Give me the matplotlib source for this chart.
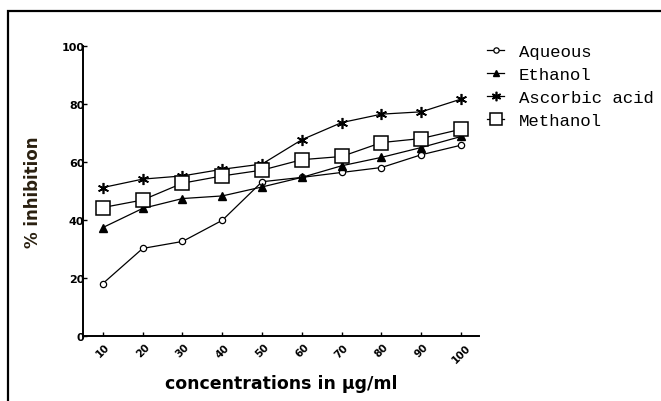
import matplotlib
matplotlib.use("Agg")
import matplotlib.pyplot as plt
from matplotlib.patches import Rectangle

concentrations = [10, 20, 30, 40, 50, 60, 70, 80, 90, 100]
aqueous = [18.1, 30.2, 32.6, 39.9, 53.2, 54.7, 56.4, 58.1, 62.5, 65.8]
ethanol = [37.4, 44.0, 47.4, 48.3, 51.4, 54.7, 58.7, 61.6, 65.0, 68.8]
ascorbic = [51.2, 54.1, 55.2, 57.5, 59.3, 67.7, 73.6, 76.5, 77.3, 81.7]
methanol = [44.3, 46.9, 52.7, 55.2, 57.2, 60.8, 61.9, 66.7, 68.1, 71.3]
series_names = ["Aqueous", "Ethanol", "Ascorbic acid", "Methanol"]
y_ticks = [0, 20, 40, 60, 80, 100]

fig = plt.figure(figsize=(6.61, 4.02), dpi=100)
fig.patch.set_facecolor("white")
ax = fig.add_axes([83/661, 1-337/402, (479-83)/661, (337-47)/402])

lw = 0.9
ax.plot(concentrations, aqueous, color="black", lw=lw, marker="o", ms=4.5,
        mfc="white", mec="black", mew=0.9, label=series_names[0])
ax.plot(concentrations, ethanol, color="black", lw=lw, marker="^", ms=5.5,
        mfc="black", mec="black", label=series_names[1])
ax.plot(concentrations, ascorbic, color="black", lw=lw, marker=(6, 2, 0), ms=8,
        mec="black", mew=1.2, label=series_names[2])
ax.plot(concentrations, methanol, color="black", lw=lw, marker="s", ms=9.5,
        mfc="white", mec="black", mew=1.1, label=series_names[3])

ax.set_xlim(5, 104.5)
ax.set_ylim(0, 100)
ax.set_xticks(concentrations)
ax.set_xticklabels([str(c) for c in concentrations], rotation=45,
                   ha="center", va="top", fontsize=7.5, fontweight="bold")
ax.set_yticks(y_ticks)
ax.set_yticklabels([str(v) for v in y_ticks], fontsize=8, fontweight="bold")
ax.tick_params(axis="both", direction="in", length=3, width=1, color="black")
ax.tick_params(axis="y", pad=-1)
ax.tick_params(axis="x", pad=4)
for s in ["top", "right"]:
    ax.spines[s].set_visible(False)
for s in ["left", "bottom"]:
    ax.spines[s].set_linewidth(1.4)

ax.set_xlabel("concentrations in µg/ml", fontsize=12.5, fontweight="bold", labelpad=7)
ax.set_ylabel("% inhibition", fontsize=12, fontweight="bold", labelpad=14,
              color="#2a2010")

leg = ax.legend(loc="upper left", bbox_to_anchor=(487/661, 1-45/402),
                bbox_transform=fig.transFigure, frameon=False,
                prop={"family": "Liberation Mono", "size": 12.5},
                handlelength=1.0, handletextpad=0.85, labelspacing=0.45,
                borderpad=0, borderaxespad=0, markerscale=0.85)

rect = Rectangle((8/661, -0.5), 2.0, 0.5 + (1-12/402), transform=fig.transFigure,
                 fill=False, edgecolor="black", linewidth=1.6, clip_on=False)
fig.patches.append(rect)

fig.savefig("out.png", dpi=100)
